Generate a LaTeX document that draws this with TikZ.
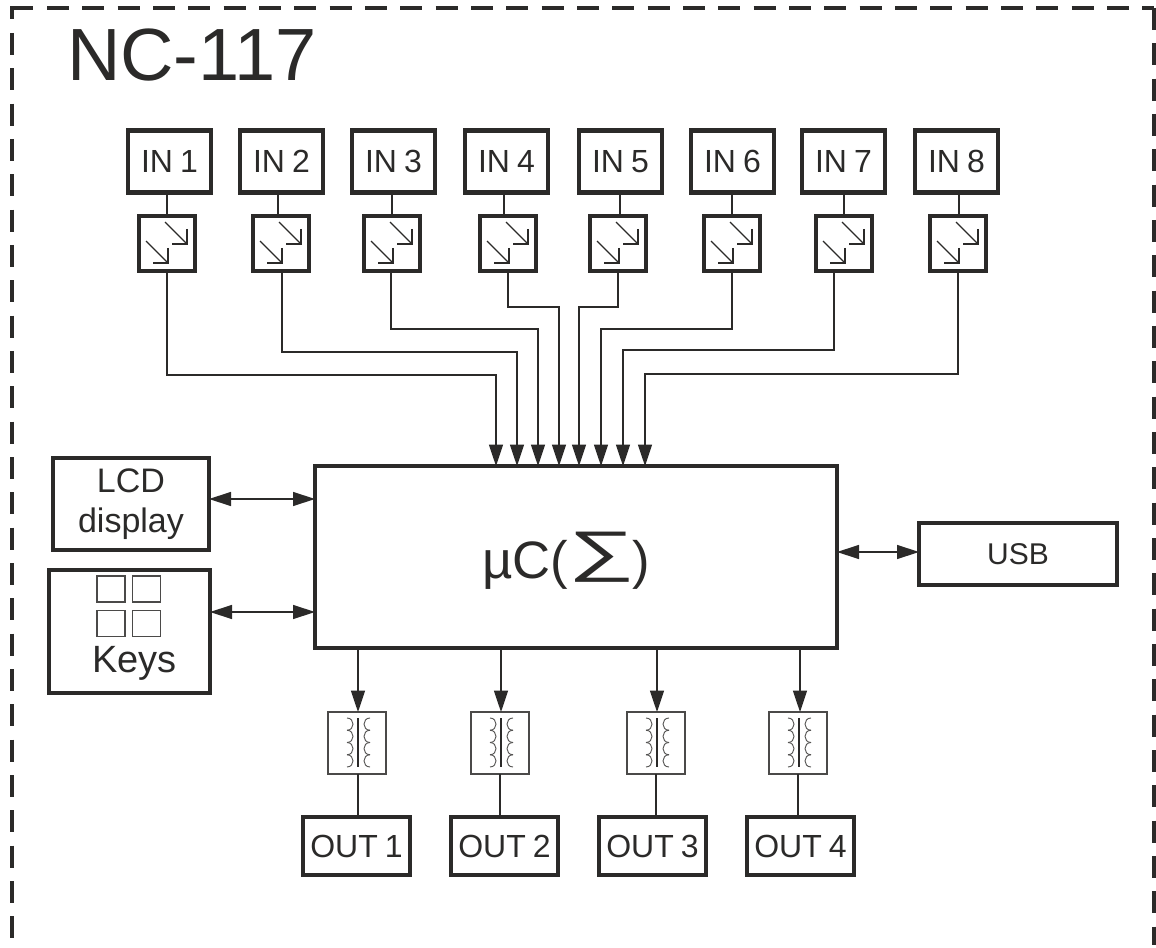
\documentclass[tikz,border=0pt]{standalone}
\usepackage{fontspec}
\usepackage{graphicx}
\setmainfont[WordSpace=0.8]{Liberation Sans}
\usetikzlibrary{arrows.meta}
\definecolor{ink}{HTML}{2B2A29}
\definecolor{coilgray}{HTML}{555453}
\tikzset{
  x=.75pt,y=-.75pt,
  every node/.style={text=ink,inner sep=0pt,outer sep=0pt},
  bx/.style 2 args={draw=ink,line width=3.1pt,minimum width=#1*.75pt,minimum height=#2*.75pt,align=center,
     font=\fontsize{24pt}{29.5pt}\selectfont},
  thinbx/.style 2 args={draw=ink!85,line width=1.05pt,minimum width=#1*.75pt,minimum height=#2*.75pt},
  phbx/.style={draw=ink,line width=3pt,minimum width=56*.75pt,minimum height=55*.75pt},
  wire/.style={draw=ink,line width=1pt},
  hd/.style={wire,-{Triangle[length=16pt,width=10.5pt]}},
  dhd/.style={wire,{Triangle[length=16.5pt,width=10.5pt]}-{Triangle[length=16.5pt,width=10.5pt]}},
  border/.style={draw=ink,line width=3.4pt},
  dashb/.style={border,dash pattern=on 16.5pt off 10pt},
  coil/.style={draw=coilgray,line width=.7pt},
  photo/.style={draw=ink,line width=1pt},
}
\begin{document}
\begin{tikzpicture}
\useasboundingbox (0,0) rectangle (1156,948);
% outer dashed frame
\coordinate (fa) at (12,19);
\coordinate (fb) at (12,8);
\coordinate (fc) at (33,8);
\coordinate (fd) at (47,8);
\coordinate (fe) at (1154,8);
\coordinate (ff) at (1154,945);
\coordinate (fg) at (12,33);
\coordinate (fh) at (12,948);
\coordinate (fi) at (12,949.8);
\coordinate (fj) at (1154,949.8);
\draw[border] (fa) -- (fb) -- (fc);
\draw[dashb] (fd) -- (fe);
\draw[dashb] (fe) -- (ff);
\draw[dashb] (fg) -- (fh);
\draw[dashb] (fi) -- (fj);
\node[anchor=base west,font=\fontsize{55.5pt}{60pt}\selectfont] (title) at (67,81) {NC-117};
% main
\node[bx={522}{182}] (main) at (576,557) {};
\node[anchor=base west,font=\fontsize{39.5pt}{45pt}\selectfont] (mc) at (482,578) {µC(};
\node (sig) at (602,557) {\makebox[34pt][c]{\resizebox{50pt}{28.8pt}{∑}}};
\node[anchor=base west,font=\fontsize{39.5pt}{45pt}\selectfont] (mc2) at (632,578) {)};
% inputs
\foreach \i/\xa/\pc/\t/\l/\y/\a in {
 1/128/167/167/167/375/496,
 2/240/281/278/282/352/517,
 3/352/392/392/391/329/538,
 4/465/508/504/508/307/559,
 5/579/618/620/618/307/579,
 6/691/732/732/732/329/601,
 7/802/844/844/834/350/623,
 8/915/958/959/958/374/645}{
  \node[bx={83}{62}] (in\i) at (\xa+41.5,161.5) {\raisebox{-.5pt}{IN \i}};
  \node[phbx] (ph\i) at (\pc,243.5) {};
  \coordinate (t\i) at (\t,0);
  \coordinate (l\i) at (\l,0);
  \coordinate (a\i) at (\a,0);
  \draw[wire] (in\i.south -| t\i) -- (ph\i.north -| t\i);
  \draw[hd] (ph\i.south -| l\i) -- (\l,\y) -- (\a,\y) -- (main.north -| a\i);
  \begin{scope}[shift={(ph\i.center)}]
    \draw[photo] (-2,-21.5) -- (20,0.5);
    \draw[photo] (20,-14.5) -- (20,0.5) -- (5,0.5);
    \draw[photo] (-21,-2.5) -- (1,19.5);
    \draw[photo] (1,4.5) -- (1,19.5) -- (-14,19.5);
  \end{scope}
}
% left side
\node[bx={156}{92},font=\fontsize{25.5pt}{29.5pt}\selectfont] (lcd) at (131,504) {LCD\\display};
\node[bx={161}{123}] (keys) at (129.5,631.5) {};
\node[font=\fontsize{28.5pt}{32pt}\selectfont,anchor=base] (keyslabel) at (134.5,672) {Keys};
\node[thinbx={28}{26}] (k1) at (111,589) {};
\node[thinbx={28}{26}] (k2) at (146.5,589) {};
\node[thinbx={28}{26}] (k3) at (111,623.5) {};
\node[thinbx={28}{26}] (k4) at (146.5,623.5) {};
\coordinate (ly) at (0,499);
\coordinate (ky) at (0,612);
\draw[dhd] (lcd.east |- ly) -- (main.west |- ly);
\draw[dhd] (keys.east |- ky) -- (main.west |- ky);
% usb
\node[bx={198}{62},font=\fontsize{22.5pt}{27pt}\selectfont] (usb) at (1018,554) {\raisebox{-1pt}{USB}};
\coordinate (uy) at (0,552);
\draw[dhd] (main.east |- uy) -- (usb.west |- uy);
% outputs
\foreach \i/\c/\ax/\lx/\ox in {
 1/357/358/358/356.5,
 2/500/501/500/504.5,
 3/656/657/656/652.5,
 4/798/800/798/800.5}{
  \node[thinbx={58}{62}] (tr\i) at (\c,743) {};
  \node[bx={107}{58}] (out\i) at (\ox,846) {\raisebox{-1.5pt}{OUT \i}};
  \coordinate (ax\i) at (\ax,0);
  \coordinate (lx\i) at (\lx,0);
  \draw[hd] (main.south -| ax\i) -- (tr\i.north -| ax\i);
  \draw[wire] (tr\i.south -| lx\i) -- (out\i.north -| lx\i);
  \begin{scope}[shift={(tr\i.center)}]
    \draw[draw=ink,line width=1.9pt] (1,-25) -- (1,24);
    \foreach \k in {0,1,2,3}{
      \pgfmathsetmacro{\ya}{-25+12.25*\k}
      \pgfmathsetmacro{\yb}{\ya+12.25}
      \draw[coil] (-10,\ya) .. controls (-2,\ya) and (-2,\yb) .. (-10,\yb);
      \draw[coil] (13,\ya) .. controls (5,\ya) and (5,\yb) .. (13,\yb);
    }
  \end{scope}
}
\end{tikzpicture}
\end{document}
